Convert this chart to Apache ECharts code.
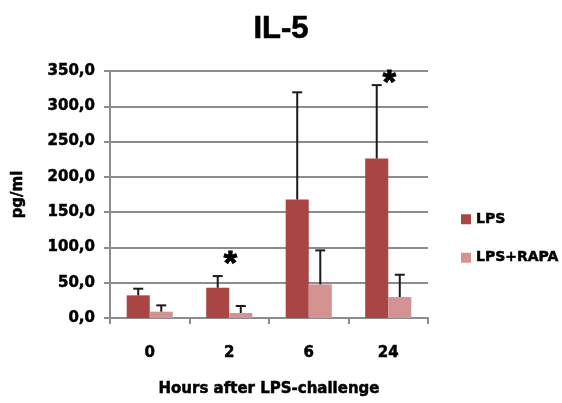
<!DOCTYPE html>
<html>
<head>
<meta charset="utf-8">
<script src="https://cdn.jsdelivr.net/npm/echarts@6/dist/echarts.min.js"></script>
<style>html,body{margin:0;padding:0;background:#fff}#c{width:562px;height:403px}</style>
</head>
<body>
<div id="c"></div>
<script>
var categories = ['0', '2', '6', '24'];
var lpsValues = [32.1, 42.9, 167.9, 226.0];
var lpsErrors = [9.4, 16.5, 151.9, 104.0];
var rapaValues = [9.0, 7.1, 47.6, 29.7];
var rapaErrors = [8.9, 9.9, 48.2, 31.6];
var starValues = [null, 84, null, 340];
var yTicks = [0, 50, 100, 150, 200, 250, 300, 350];

var FONT = '"DejaVu Sans", sans-serif';
var TFONT = '"Liberation Sans", Arial, sans-serif';
var CAT_GAP = 0.42;
var heavy = { textBorderColor: '#000', textBorderWidth: 0.5 };

function txt(size) {
  return Object.assign({ fontFamily: FONT, fontSize: size, fontWeight: 'bold', color: '#000' }, heavy);
}

function errorSeries(values, errors, side) {
  return {
    type: 'custom',
    z: 5,
    silent: true,
    renderItem: function (params, api) {
      var idx = api.value(0);
      var mean = api.value(1);
      var err = api.value(2);
      var base = api.coord([idx, mean]);
      var top = api.coord([idx, mean + err]);
      var band = api.size([1, 0])[0];
      var barW = band * (1 - CAT_GAP) / 2;
      var x = base[0] + side * barW / 2;
      var cap = 5;
      var style = { stroke: '#1a1a1a', lineWidth: 2 };
      return {
        type: 'group',
        children: [
          { type: 'line', shape: { x1: x, y1: base[1], x2: x, y2: top[1] }, style: style },
          { type: 'line', shape: { x1: x - cap, y1: top[1], x2: x + cap, y2: top[1] }, style: style }
        ]
      };
    },
    data: values.map(function (v, i) { return [i, v, errors[i]]; })
  };
}

var starData = [];
starValues.forEach(function (s, i) {
  if (s !== null) starData.push([i, s]);
});

var option = {
  animation: false,
  backgroundColor: '#fff',
  title: {
    text: 'IL-5',
    left: 'center',
    top: 9,
    textStyle: { fontFamily: TFONT, fontSize: 31, fontWeight: 'bold', color: '#000', textBorderColor: '#000', textBorderWidth: 0.6 }
  },
  legend: {
    orient: 'vertical',
    left: 461,
    top: 212,
    padding: 0,
    itemWidth: 10,
    itemHeight: 10,
    itemGap: 24,
    icon: 'rect',
    data: ['LPS', 'LPS+RAPA'],
    textStyle: txt(14)
  },
  grid: { left: 110, right: 134, top: 71, bottom: 85 },
  xAxis: {
    type: 'category',
    data: categories,
    name: 'Hours after LPS-challenge',
    nameLocation: 'middle',
    nameGap: 64,
    nameTextStyle: txt(15),
    axisLine: { lineStyle: { color: '#8c8c8c', width: 2 } },
    axisTick: { show: true, length: 6, lineStyle: { color: '#8c8c8c', width: 2 } },
    axisLabel: Object.assign({ margin: 28 }, txt(15))
  },
  yAxis: {
    type: 'value',
    min: 0,
    max: 350,
    interval: 50,
    name: 'pg/ml',
    nameLocation: 'middle',
    nameGap: 84,
    nameTextStyle: txt(15),
    axisLine: { show: true, lineStyle: { color: '#8c8c8c', width: 2 } },
    axisTick: { show: true, length: 6, lineStyle: { color: '#8c8c8c', width: 2 } },
    splitLine: { lineStyle: { color: '#8c8c8c', width: 2 } },
    axisLabel: Object.assign({
      margin: 15,
      formatter: function (v) { return v.toFixed(1).replace('.', ','); }
    }, txt(15))
  },
  series: [
    {
      name: 'LPS', type: 'bar', data: lpsValues,
      barGap: '0%', barCategoryGap: (CAT_GAP * 100) + '%',
      itemStyle: { color: '#a94543' }
    },
    {
      name: 'LPS+RAPA', type: 'bar', data: rapaValues,
      barGap: '0%', barCategoryGap: (CAT_GAP * 100) + '%',
      itemStyle: { color: '#d49392' }
    },
    errorSeries(lpsValues, lpsErrors, -1),
    errorSeries(rapaValues, rapaErrors, 1),
    {
      type: 'custom',
      z: 6,
      silent: true,
      renderItem: function (params, api) {
        var idx = api.value(0);
        var p = api.coord([idx, api.value(1)]);
        return {
          type: 'text',
          style: {
            x: p[0] + 1, y: p[1] + 6,
            text: '*',
            font: 'bold 34px ' + TFONT,
            fill: '#000',
            stroke: '#000',
            lineWidth: 1,
            align: 'center',
            verticalAlign: 'middle'
          }
        };
      },
      data: starData
    }
  ]
};

var chart = echarts.init(document.getElementById('c'), null, { renderer: 'canvas' });
chart.setOption(option);
</script>
</body>
</html>
